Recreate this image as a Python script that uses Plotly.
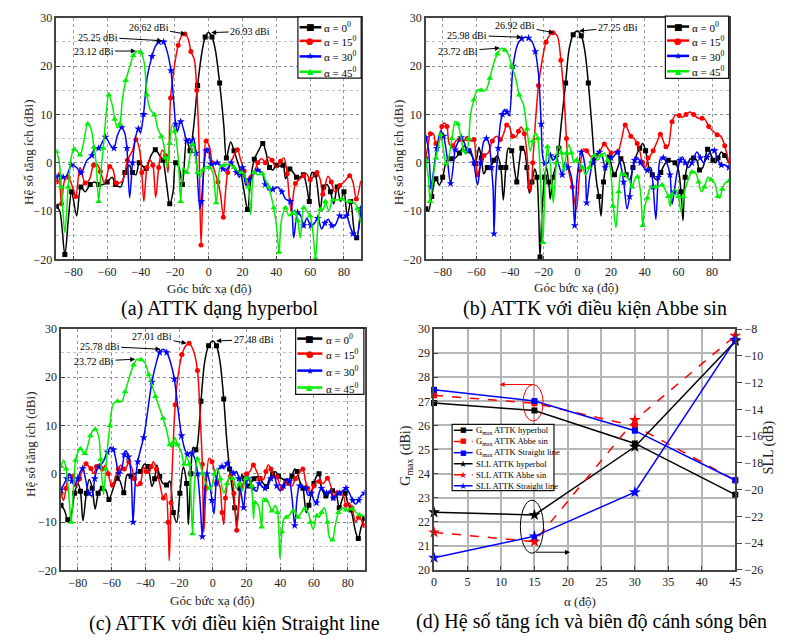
import plotly.graph_objects as go

# ---------------- radiation patterns: (angle [deg], gain [dBi]) ----------------
# (a) hyperbolic lens antenna
HYP_0 = [(-90,-9),(-88,-10),(-85,-19),(-83,-12),(-81,-6),(-78,-11),(-75.5,-5),(-73,-6),(-70,-4.5),(-67.5,-4),
         (-65,-4.5),(-62.5,-4.5),(-60,-4),(-57,-3),(-55,-4.5),(-52,-5),(-49.5,-2),(-47,-0.5),(-45,-2),(-43,-2.5),
         (-41,0),(-39.5,-0.5),(-37,-1.2),(-34,1.5),(-31.5,2.7),(-29,1.5),(-27,0.5),(-25,-4),(-23,-8.5),(-21,-6),
         (-19.5,0),(-17.5,-1),(-15.5,-4.5),(-13,5),(-11,2.5),(-9,7),(-6.5,16),(-4,22.8),(-2,26),(0,26.93),
         (2,26),(4,23.3),(6.5,16.5),(9,7.6),(10.5,1),(13,4.3),(15,2.5),(17,0.3),(19,-2),(21,-6),(23,-9.7),
         (25,-3),(27,0.7),(29.5,2.5),(32,4),(34,2),(36,-1),(38,-1.5),(40,-0.5),(42,-0.7),(44,-0.5),(45.5,-3.3),
         (48,-1.3),(50,-2),(52,-3),(54,-3),(56,-2.5),(58,-5),(59.5,-8),(61,-2),(63,-2.5),(66,-9.7),(68,-5),
         (70,-4.5),(72,-6),(74,-8.5),(76,-5),(78,-8),(80,-6),(82,-11),(84,-8),(86,-14),(87.5,-15.5),(90,-9)]
HYP_15 = [(-90,-4),(-88.5,-2),(-87,-8.5),(-85,-3.5),(-83,-3),(-80,-5.5),(-78.5,-7),(-76,-1),(-73,-4.2),(-70.5,-3.5),
          (-68,-0.5),(-66,-0.3),(-64,-1.8),(-61.5,-4.2),(-58.5,-0.8),(-56.5,-1.5),(-54.5,-4.2),(-51,-3.8),(-48,0.5),
          (-45,2.5),(-43,4.8),(-41,3),(-39.5,-2),(-38.3,-8),(-36.5,-1),(-35,0.6),(-33,-0.5),(-31.3,-7.2),(-29.5,-1),
          (-27.5,2.6),(-25.5,1.5),(-24,-2),(-22.5,13.4),(-20,20.5),(-18,24.3),(-16,26.2),(-14,26.62),(-12,25.5),
          (-10.5,23),(-8.5,21.4),(-7,15),(-5.8,5),(-4.5,-17),(-3,-2),(-1.5,4.5),(0.5,3.3),(2,0),(3.5,-1.7),(5.5,-4),
          (7,-6.5),(8.7,-11.3),(10,-6),(11.3,-2),(14.3,1),(17,2.7),(19,0.5),(21,-1.7),(23,-5),(25,-3),(27,-2),
          (29,0),(31.5,0.8),(33.5,0),(35,1.2),(37.5,0.5),(40,-1),(42.5,0.3),(44.5,1),(46.4,-2.3),(48.7,-10),
          (51.3,-4.3),(53.5,-3.5),(56,-2.7),(58,-2.3),(60,-3.5),(61.7,-3),(64,-2),(66,-3.5),(67.5,-6.5),(70.5,-2.8),
          (72.5,-4),(74.5,-6),(77.5,-4.7),(80,-4),(83.4,-2.7),(85.3,-4),(87.3,-7.5),(90,-3.7)]
HYP_30 = [(-90,-3),(-88,-2.5),(-86,-3),(-84,-2.7),(-81,-0.5),(-78,-1),(-75.4,-2.1),(-72,0.5),(-69,1.5),(-67.6,2.9),
          (-65,3),(-62.5,4.5),(-61,5.3),(-58,3.6),(-56,3),(-54,5.6),(-51.4,7.3),(-49.5,6),(-48.3,3),(-46.7,-7.2),
          (-45,0),(-43.2,5.3),(-41.5,7),(-40.3,6.2),(-38.5,10),(-36.4,17.5),(-33.5,22),(-31.5,24.1),(-29.5,25),
          (-28,25.25),(-26.6,25),(-24.5,23),(-22.3,19.1),(-20.5,12),(-19.5,8),(-18.5,6.5),(-16.5,8.5),(-14.5,6.5),
          (-13,4.5),(-11.5,5),(-10,4),(-9,5.3),(-7.5,2),(-5.2,-9.6),(-4.3,-8),(-3,-2),(-1.5,2.5),(-0.3,3),(1.6,-0.3),
          (3,-0.3),(5,0),(7,-0.5),(8.4,-1.3),(10.5,-1.5),(13.3,0),(15,-1),(16.5,-2),(18.2,-3),(20,-1),(22,-4.7),
          (24,-3.5),(27,-2.3),(29,-1.5),(31.8,-2.3),(33.5,-4.5),(35.7,-5.7),(38,-5.5),(40.6,-5),(43.3,-6),
          (45.5,-7.5),(48.3,-8),(50.3,-15.5),(52.6,-10.3),(54.5,-11),(56.2,-13),(58,-11.5),(60.5,-13),(62.5,-12.5),
          (64.5,-11.5),(66.8,-13.7),(68.7,-12.5),(70.8,-11.7),(72.8,-13),(74.6,-13),(77.5,-11),(79.5,-11.5),
          (81.5,-11),(83.5,-13),(85.3,-14.7),(87.3,-15.5),(90,-9.5)]
HYP_45 = [(-90,2.3),(-88.5,0.5),(-87,-5),(-85,-14.5),(-83,-5),(-81,1.5),(-79.5,2.8),(-78,2.5),(-76,1.6),(-74,4),
          (-71.5,8),(-69.5,7),(-67.8,3.2),(-66.5,0),(-65,-8),(-63.5,-1),(-62.3,3),(-61,8.5),(-59,14),(-57,12),
          (-55.5,9),(-53.8,7.2),(-52.5,8),(-51,13),(-49,17),(-46.5,20),(-44.5,22.2),(-42,23.12),(-40,22.8),
          (-38,20.5),(-36.5,14),(-34.5,11),(-32,9.9),(-30,7),(-28,5.5),(-26.6,3.9),(-25.5,1),(-24.5,-1),(-23,4),
          (-21.5,7.8),(-20,6.5),(-18,1),(-16.5,-8),(-15,-1),(-13,-2),(-11,1.5),(-9.5,3.8),(-8,2),(-6.5,-2),(-5,-3),
          (-3.5,-1.5),(-1.5,-0.8),(0.5,-1),(2.5,-2),(4.5,-8.3),(7,-0.7),(9,-0.5),(12.3,-0.3),(15,-1),(17.2,-1.7),
          (19.5,-2),(21,-2.5),(23.5,-5),(24.9,-10.7),(26.9,-2),(28.8,-2.5),(31.8,-2.3),(33.5,-3.5),(35.5,-5),
          (37,-7),(38.5,-9.3),(40.2,-13.3),(41.6,-18.5),(43,-12),(45.4,-9.3),(47.5,-11),(49.5,-10.5),(51,-9.8),
          (52.7,-12),(54.2,-15.5),(56.2,-9.3),(58,-10),(60,-11),(61.5,-14),(63.2,-19.8),(64.8,-12),(66,-9.7),
          (68,-9.5),(69,-8),(71,-10),(73.4,-7.7),(76.4,-7.7),(79,-7.5),(81,-8),(83.4,-8),(86.3,-8.3),(88,-9.5),
          (90,-12.5)]

# (b) lens antenna with Abbe sine condition
ABBE_0 = [(-90,-9.5),(-88.5,-10),(-86.5,-7),(-85,-4),(-84,-3.3),(-82,-4.6),(-80,-3),(-77.5,0.5),(-75,0.8),(-73.2,0.8),
          (-70,2),(-67.4,3.4),(-64.5,2.5),(-62,1),(-60.5,-0.2),(-58.5,3.2),(-57,1),(-55.6,-2.3),(-53.5,-1),
          (-51.7,-0.9),(-49.5,0.5),(-47.5,1.5),(-45.5,-1),(-44,-7.7),(-42.5,-1),(-41,3),(-39,2.5),(-37.5,-1),
          (-36,-4),(-34.5,0),(-33,3),(-31.5,2.5),(-30,-1),(-28.5,-6.3),(-27,-4),(-25.3,-1.3),(-24,-3),(-23,-10),
          (-22.2,-19.5),(-21,-10),(-19.5,-3),(-18.4,-1),(-17,-4),(-16.1,-7.5),(-14.5,-3),(-12.6,-0.3),(-11,3),
          (-9.6,8),(-7,16.5),(-4.9,23.5),(-2.5,26.5),(0,27.25),(2.3,26.3),(4.3,23.4),(6.5,16.5),(8.5,8),(10,1),
          (11.5,-4.3),(12.8,-7),(14,-11),(15.5,-4),(17,-0.7),(19,1.2),(20.5,-1),(22,-2.5),(24,-1),(25.8,0.8),
          (27.5,0),(29,-2.5),(31,-3.5),(33,-1),(35,1.5),(37,3),(38.8,4),(40.5,2.5),(42.5,-1),(44.5,-2.5),
          (47.5,-3.6),(49.5,-2),(51.5,-0.5),(53.9,0.5),(56,0.3),(58,0),(60,-1.5),(61.5,-6),(62.7,-12),(64,-3),
          (66.8,0.7),(69,1),(71,0.5),(72.5,-1.5),(74.5,-1),(77.3,2.8),(79,2),(80.5,0.5),(82,0),(83.5,1),(85.5,2.2),
          (87.5,1.5),(90,0)]
ABBE_15 = [(-90,1),(-88.5,4),(-87.3,6),(-85.5,6),(-84,4),(-82,4.5),(-80.5,7.5),(-79,8.2),(-77.5,7.5),(-76,3.8),
           (-74,3.5),(-72.3,4.5),(-70,4.8),(-68,4.5),(-65.4,5),(-63,4.5),(-61.5,4.8),(-60.2,0),(-59.3,-2.5),
           (-57.5,-0.5),(-55.5,1.5),(-53,2),(-50.5,4.5),(-48,5.5),(-45.8,4.8),(-44,5.8),(-42,7.8),(-40.5,7.5),
           (-38.5,5.5),(-36.5,5.3),(-35,6.5),(-33.5,7.4),(-31.5,6),(-30,2),(-28.5,-5),(-27.6,-6),(-26.5,0),(-25,8),
           (-23.1,16),(-21,21),(-18.6,25),(-16,26.6),(-14.5,26.92),(-12,26.3),(-9.8,21.2),(-8,14),(-6.5,5),(-5,-2),
           (-3,-5),(-0.6,-9.7),(1.5,-1.5),(3.5,2.8),(5.5,2.5),(8,1.3),(11.2,1.5),(13.5,2.5),(16,3.9),(18,3),(20,2),
           (22,2.2),(24,2.2),(26,4.5),(28.4,7.8),(30,6.8),(31.7,5.5),(33.6,5),(35.5,4),(37,2.5),(38.6,0.1),
           (40.5,-0.9),(42,1),(43.4,1.5),(45,2.5),(47.5,4.5),(49.3,5.9),(51,4.5),(52.6,3.3),(54,3.5),(56.2,8.5),
           (58.5,9.9),(60.5,9.8),(62.5,9.4),(64.5,10),(66.9,10.5),(69,10),(71.7,9.2),(74,9.2),(75.7,9),(78,7.5),
           (80.6,6.5),(83,5.8),(85.1,5.5),(87.5,3.5),(90,-0.2)]
ABBE_30 = [(-90,5.2),(-88.5,3),(-86.8,-5),(-85.5,-2),(-83.5,3),(-81.2,6.5),(-79.5,5.5),(-77.5,1.5),(-75.3,-4.3),
           (-73.5,0),(-72.6,2.7),(-70.5,4.5),(-69,5.2),(-67,4),(-65.5,2.5),(-63.8,2.8),(-61.5,0),(-59.3,-4.6),
           (-57.5,0),(-55.5,4.5),(-54,5),(-52.5,4),(-51,-1),(-50,-5.8),(-49.5,-14.7),(-48.5,-4),(-47,3),(-45.8,8),
           (-44.5,10),(-43.2,11),(-41.8,10.5),(-40.5,9.7),(-38.2,20),(-35.5,24.5),(-33,25.7),(-31,25.98),(-29,25.8),
           (-27,25.1),(-25,23),(-23.1,18.3),(-21.5,8),(-20.5,1),(-19.2,-0.2),(-17.5,0),(-16,1.5),(-14.5,0.5),
           (-12.7,1.2),(-11,-0.5),(-9,-2.5),(-7.5,0),(-5.5,-1),(-3.5,-3),(-1.6,-13),(-0.2,-3.2),(2.3,2.2),(4.5,-0.5),
           (5.5,-8.3),(7.2,-3.3),(9,0),(11,1.5),(13.1,2.2),(15,1),(16.5,-1),(18,-0.2),(20,1),(22,1.5),(23.9,2.2),
           (25.5,0),(27.5,-4),(29.5,-9.6),(31,-7),(32.5,-2),(34,0.5),(35.7,1.1),(37.5,0),(39.5,-1),(41.5,-1.6),
           (43.5,-1),(45,-5),(46.6,-11.7),(48,-3),(49.3,0.8),(51,1),(53,0),(55,-2.5),(56.2,-8.6),(57.5,-6),
           (59.1,-2.2),(61,0.5),(62.5,1.2),(64,0),(66,-1),(68,0),(71,2.2),(73,1),(75,0),(77,1.1),(80,2.8),(81.5,2.5),
           (83.5,0.5),(85.5,-0.5),(88,-0.5),(90,-1)]
ABBE_45 = [(-90,0.5),(-88.5,-3),(-87.5,-8),(-86,-4),(-84,1),(-82.5,3.5),(-81.2,5.8),(-79.5,2.5),(-78,-0.2),(-76.5,1),
           (-74.5,5),(-72.5,8.6),(-71,8),(-69,5),(-67.5,2.5),(-66,1.8),(-64.5,5),(-63.5,9.8),(-61.5,13),(-59.3,15.1),
           (-57,15),(-54.4,15),(-52,17.5),(-49.9,20.4),(-47.5,22.5),(-45,23.72),(-43,23.3),(-41.1,22.5),(-39,20),
           (-36.8,17.7),(-34.5,14),(-32,12),(-30,7),(-28,2.5),(-26.5,4.5),(-25,6.2),(-23.5,5),(-22,-3),(-20.5,-16.5),
           (-19,-2),(-17.8,3.3),(-16.5,1),(-15,-5),(-14.3,-8.3),(-12.5,0),(-11.3,3.4),(-9.5,2),(-8,-2),(-6.5,2),
           (-5,3.7),(-3.5,2),(-2,0),(-0.6,0.5),(1,0),(3,-1),(5,-2.5),(7,-1),(8.5,1),(10.2,1.5),(12,0.5),(14,1.5),
           (16,2),(18,0.5),(19.5,-1),(21.3,-9),(22.9,-13.4),(24.5,-6),(26,-2),(28,-2.5),(30.7,-3.6),(32.5,-5),
           (34,-3.5),(35.7,-2.9),(37.5,-6),(38.8,-13),(40,-9),(41.5,-7.3),(43.5,-5),(46.4,-5),(48.5,-4.8),
           (50.3,-4.6),(52.2,-5.6),(54,-7),(55,-9),(56.2,-6.6),(58,-5.5),(60,-7),(61.5,-10.1),(63,-7),(65,-4.3),
           (68,-1.9),(70,-2),(72,-4),(73.7,-6),(75.5,-5),(77.5,-3),(79.5,-3.5),(81.6,-4.3),(83.5,-7),(84.5,-7.3),
           (86,-5.5),(87.5,-4.3),(90,-3.8)]

# (c) lens antenna with straight-line condition
STR_0 = [(-90,-6.5),(-88,-7.5),(-86,-9.5),(-84,-8.5),(-82,-4),(-80,-2),(-78.5,-3.6),(-77,-9.7),(-75,-4),(-73.3,-1.2),
         (-71.5,-3),(-69.8,-7.3),(-68,-4),(-67,-3.3),(-65.5,-3),(-63.5,-3.3),(-61.6,-5.3),(-59,-3),(-56.7,-0.9),
         (-55,-1.5),(-52.8,-3.9),(-50.8,-0.2),(-48.5,-0.5),(-46,0.1),(-43,0.5),(-40.6,2),(-38.5,1.5),(-36.1,-2.6),
         (-34.5,-1),(-33.2,1.8),(-31.5,-0.5),(-29.5,-2),(-27.4,-2.3),(-25.5,-1.5),(-23.4,-8),(-21.4,-10),(-19.5,-4),
         (-17.5,1.4),(-15.5,-2),(-14.5,-10.5),(-13,0),(-11.6,5.5),(-10,5),(-9.1,6),(-7,15),(-4.8,23.2),(-2.5,26.5),
         (0,27.48),(2.2,26.5),(4.2,23.4),(6.5,15.5),(8.5,6),(10,1),(11.5,-3),(13,-7),(14.5,-10),(16,-3),(17.3,-0.2),
         (18.8,-1),(20.2,-2.6),(21.5,-2.5),(23.1,-1.6),(24.5,-1),(26.1,-0.6),(28,-1),(30,-2),(31.9,-2.6),(33.5,-1),
         (35.5,0),(37.4,0.4),(39,-0.5),(41,-1),(43.5,-1.5),(45.6,-2.3),(47,-0.5),(48.6,1),(50,0.5),(51.5,-1.5),
         (53.5,-3),(55.4,-8),(57,-6.5),(58.5,-4),(60,-2),(61.5,-0.5),(63,0),(64.5,-3),(67.1,-4.6),(69,-4),
         (71,-3.5),(73,-4),(75,-7),(77,-5),(78.5,-4),(80,-6),(82,-7.5),(84.7,-12),(86.3,-13.4),(88,-11),(90,-9.3)]
STR_15 = [(-90,-4),(-88.5,-5.5),(-87,-3),(-85,-0.2),(-83,-0.5),(-81,-2.5),(-79,-1),(-77,1),(-75.2,2.1),(-73.5,1.5),
          (-72.3,1.1),(-70.5,0),(-69,1.5),(-67,2),(-65.5,1),(-63.6,1.8),(-62,0),(-60.5,-2),(-59.6,-2.3),(-57.5,-0.5),
          (-56,1),(-54.6,1.8),(-52.5,1),(-51,1.5),(-49.8,2.5),(-48,1.2),(-46.5,-1),(-45,-2.5),(-43,-2),(-41,1.4),
          (-39.5,0.5),(-38,0.1),(-36.5,1.5),(-35.2,2.5),(-33.5,1),(-31.3,-2.3),(-29.3,-5),(-27.8,-4),(-26.5,-10),
          (-25.8,-18),(-24.8,-6),(-23.5,6),(-22.3,14.3),(-20.5,20.5),(-18.3,24.7),(-16,26.5),(-14,27.01),
          (-11.5,25.5),(-9.1,21.4),(-7.5,12),(-6.2,2),(-5.3,-12),(-4,-3),(-2.2,3.2),(-0.5,2.5),(1,0.5),(2.5,-1.5),
          (4.2,-2.6),(5.5,-8),(6.5,-10.5),(7.5,-5),(9,-1.5),(10.5,-0.5),(11.5,-0.9),(12.5,-4),(13.5,-9),
          (14.2,-11.7),(15.5,-6),(17,-2.5),(18.2,-1.9),(20,0),(22,0.5),(24.1,1.8),(26,0.5),(28,-1),(30,-1.2),
          (31.5,0.5),(32.9,1.8),(34.5,1),(36,-0.5),(37.8,-0.6),(39.5,-2),(41,-3),(43,-1.5),(45,-2),(47,-2.5),
          (49,-1),(51,0),(53.4,1),(55,-1.5),(56.3,-3),(58,-4),(60,-2.5),(61.5,-1.5),(63.2,-1.6),(65.5,-2),(68,-0.9),
          (70,-2.5),(71.5,-5),(73.5,-3.5),(75.5,-4),(77.5,-4.5),(79,-6.5),(80.5,-6),(82.5,-7),(84.7,-10),
          (86.5,-9),(88,-9.5),(90,-10.7)]
STR_30 = [(-90,-3.3),(-88,-2),(-86.5,-1),(-85,0),(-83.5,-1.5),(-82,-2.5),(-80,-1),(-78.5,0.5),(-77.2,1.1),(-75.5,-1),
          (-73.5,-4),(-71.8,-4.6),(-70,-1),(-68.5,1),(-67.4,1.4),(-65,2.5),(-62.5,4.5),(-60.5,5.5),(-59,5),
          (-57.5,3),(-55.7,0.1),(-54,1),(-52.5,4),(-51.6,4.8),(-50,3.5),(-48.5,0),(-47.3,-10),(-46,-2),(-44.5,2.5),
          (-42.5,5.5),(-41,7.5),(-39,12),(-36.1,19),(-33.5,23),(-31.5,25.1),(-29.5,25.78),(-27.3,25.1),(-25,23),
          (-22.8,19.6),(-20.5,13),(-18.5,7.9),(-16.5,5),(-15,4),(-13.5,4.5),(-12.2,4.2),(-10.5,3),(-9,0),(-7.5,-6),
          (-6.2,-13),(-5,-5),(-3.5,0),(-2,-1.5),(-0.5,-5.5),(0.7,-8.3),(2,-2),(3.6,1.1),(5.5,1.5),(6.8,1.2),
          (8.5,2.1),(10.5,1),(12.4,0.1),(14,0.5),(15.5,-1),(17,-4.5),(18.3,-7),(19.5,-3),(21,-1),(22.5,-2),(24,-3),
          (26,-3.6),(27.5,-2),(29,-2.5),(31,-3),(32.9,-2.3),(34.5,-1),(36.5,-0.5),(38,-2.5),(40,-3.5),(42,-2.5),
          (44,-1),(45.5,-1.5),(47,-5),(48.6,-10.7),(50,-5),(51.5,-2.5),(53,-2.5),(55,-3),(56.5,-4.5),(58.3,-4),
          (60,-5.5),(61.5,-6),(63,-4),(64.5,-3),(66,-3.5),(67.5,-4),(69.5,-3.5),(71.5,-5),(73,-4.5),(75,-4),
          (77,-3.5),(79,-3),(81,-4),(83,-5.5),(84.7,-6.3),(86.5,-5.5),(88,-4.5),(90,-4)]
STR_45 = [(-90,1.5),(-88.5,2.8),(-87,1),(-85.5,-4),(-84,-10),(-82.5,-2),(-81.4,2.8),(-80,4.5),(-78.5,5.2),(-77,4.5),
          (-75.9,4.2),(-74,6),(-72.6,7.9),(-71,9),(-69.7,9.2),(-67.7,7.8),(-66.5,3),(-64.8,-4.3),(-63.5,1),
          (-62.8,4),(-61,10),(-58.9,14.6),(-56.5,15),(-54,15),(-52,17),(-49.7,19.7),(-47,22.5),(-44.8,23.72),
          (-42.5,23.6),(-40.3,23),(-38,20.5),(-36,18.3),(-34,16),(-31.6,13.6),(-29.5,11.5),(-27.3,8.9),(-25.5,6),
          (-24.7,5.5),(-23.5,6.5),(-22.4,7.5),(-21,6),(-18.9,4.8),(-17,2),(-15.5,3.5),(-14,2),(-13,-4),(-12,-12.4),
          (-11,-3),(-9.1,3.1),(-7.5,2),(-6,0),(-4,-2),(-2,-3),(-0.3,-2.3),(1,0),(2.6,1.1),(4.5,-1),(6.5,-4),
          (8.5,-2),(10,-0.5),(12,-1),(14,-3),(16,-2),(17.5,-3.5),(19.5,-1),(21.2,-0.6),(23,-2.5),(24.2,-9.3),
          (25.1,-6),(27,-6.5),(29,-11),(30,-5),(31.5,-5.5),(33,-6),(35.1,-7.7),(37,-6.5),(38.5,-8),(39.8,-17.5),
          (41,-12),(42.1,-9.4),(43.7,-9),(45.5,-8.5),(47.6,-7.7),(49,-8),(50.5,-9),(52.5,-8),(54.4,-7.3),(56.5,-8),
          (58,-10),(59.5,-11.5),(61.7,-8.7),(63,-9),(64.5,-8),(66.2,-7),(68,-10),(69.1,-13.1),(71,-13.7),(72.5,-11),
          (74.5,-8),(76.9,-7),(79,-7.5),(81,-7.3),(82.8,-7.3),(85,-8),(87,-8.5),(90,-8.7)]

# (d) peak gain and side-lobe level versus tilt angle
ALPHA = [0, 15, 30, 45]
GMAX_HYP = [26.93, 26.62, 25.25, 23.12]
GMAX_ABBE = [27.25, 26.92, 25.98, 23.72]
GMAX_STR = [27.48, 27.01, 25.78, 23.72]
SLL_HYP = [-21.7, -21.9, -16.8, -8.9]
SLL_ABBE = [-23.2, -23.9, -14.8, -8.5]
SLL_STR = [-25.1, -23.5, -20.2, -8.8]

# peak labels: (arrow-head angle, peak gain, text angle, text gain)
PEAKS_HYP = [(1.5, 26.93, 24.5, 27.2), (-13.5, 26.62, -35.5, 28.0), (-27.5, 25.25, -65.5, 26.0), (-43, 23.12, -68, 23.1)]
PEAKS_ABBE = [(1, 27.25, 24.0, 28.0), (-14, 26.92, -37, 28.4), (-33, 25.98, -65.5, 26.35), (-46, 23.72, -71, 23.1)]
PEAKS_STR = [(2, 27.48, 24.2, 27.8), (-15.5, 27.01, -36, 28.4), (-31, 25.78, -67, 26.4), (-46, 23.72, -70.5, 23.3)]

SERIF = "Liberation Serif"
W, H = 791, 643

STYLES = [
    dict(name="α = 0<sup>0</sup>", color="#000000", symbol="square", size=5, glyph="■", gsize=9),
    dict(name="α = 15<sup>0</sup>", color="#ff0000", symbol="circle", size=5, glyph="●", gsize=9),
    dict(name="α = 30<sup>0</sup>", color="#0000ff", symbol="star", size=6, glyph="★", gsize=9),
    dict(name="α = 45<sup>0</sup>", color="#00ee00", symbol="triangle-up", size=6, glyph="▲", gsize=8),
]


def px_x(px):
    return px / W


def px_y(py):
    return 1 - py / H


fig = go.Figure()
annotations = []
shapes = []
layout_axes = {}


def add_legend_box(box, rows, sample, text_x, entries, font_size, line_w):
    """Boxed key drawn in figure pixels: box=(x0,y0,x1,y1), one row per entry."""
    shapes.append(dict(type="rect", xref="paper", yref="paper",
                       x0=px_x(box[0]), x1=px_x(box[2]), y0=px_y(box[3]), y1=px_y(box[1]),
                       line=dict(color="#111", width=1.2), fillcolor="white", layer="above"))
    for ry, (label, color, dash, glyph, gsize) in zip(rows, entries):
        shapes.append(dict(type="line", xref="paper", yref="paper",
                           x0=px_x(sample[0]), x1=px_x(sample[1]), y0=px_y(ry), y1=px_y(ry),
                           line=dict(color=color, width=line_w, dash=dash), layer="above"))
        annotations.append(dict(x=px_x((sample[0] + sample[1]) / 2), y=px_y(ry), xref="paper", yref="paper",
                                text=glyph, showarrow=False, xanchor="center", yanchor="middle",
                                font=dict(family="DejaVu Sans", size=gsize, color=color)))
        annotations.append(dict(x=px_x(text_x), y=px_y(ry), xref="paper", yref="paper",
                                text=label, showarrow=False, xanchor="left", yanchor="middle",
                                font=dict(family=SERIF, size=font_size, color="black")))


PANELS = [
    dict(ax="", series=[HYP_0, HYP_15, HYP_30, HYP_45], peaks=PEAKS_HYP,
         dx=(54, 362), dy=(11, 258), ytitle=(26.5, 149), xtitle=(209, 288),
         caption="(a) ATTK dạng hyperbol", cap=(220, 308),
         box=(298.3, 10, 362.3, 72.7), rows=(20.7, 34.6, 50.5, 66.2), sample=(300, 322), text_x=323),
    dict(ax="2", series=[ABBE_0, ABBE_15, ABBE_30, ABBE_45], peaks=PEAKS_ABBE,
         dx=(427.7, 734.3), dy=(11, 258), ytitle=(400, 149), xtitle=(580.5, 287),
         caption="(b) ATTK với điều kiện Abbe sin", cap=(598.5, 308),
         box=(670, 9.3, 734, 73), rows=(20, 34.3, 50, 65.7), sample=(671.7, 694), text_x=695),
    dict(ax="3", series=[STR_0, STR_15, STR_30, STR_45], peaks=PEAKS_STR,
         dx=(58.7, 365.7), dy=(329, 576), ytitle=(28, 447), xtitle=(212.3, 607),
         caption="(c) ATTK với điều kiện Straight line", cap=(234.5, 630),
         box=(296, 328.3, 365, 396), rows=(339, 354.3, 371.7, 389), sample=(297.7, 323), text_x=325),
]

for p in PANELS:
    xa, ya = "x" + p["ax"], "y" + p["ax"]
    for st, data in zip(STYLES, p["series"]):
        ang = [a for a, _ in data]
        gain = [g for _, g in data]
        fig.add_trace(go.Scatter(x=ang, y=gain, mode="lines", xaxis=xa, yaxis=ya, name=st["name"],
                                 line=dict(color=st["color"], width=1.5, shape="spline", smoothing=0.9),
                                 showlegend=False, hoverinfo="skip"))
        fig.add_trace(go.Scatter(x=ang[::2], y=gain[::2], mode="markers", xaxis=xa, yaxis=ya,
                                 marker=dict(color=st["color"], symbol=st["symbol"], size=st["size"],
                                             line=dict(width=0)),
                                 showlegend=False, hoverinfo="skip"))
    layout_axes["xaxis" + p["ax"]] = dict(
        domain=[px_x(p["dx"][0]), px_x(p["dx"][1])], anchor=ya, range=[-90, 90],
        dtick=20, tick0=0, showgrid=True, gridcolor="#9a9a9a", griddash="dot", gridwidth=1,
        showline=True, mirror=True, linecolor="#444", linewidth=1.5,
        ticks="inside", ticklen=4, tickcolor="#444", zeroline=False,
        tickfont=dict(family=SERIF, size=12, color="#222"))
    layout_axes["yaxis" + p["ax"]] = dict(
        domain=[px_y(p["dy"][1]), px_y(p["dy"][0])], anchor=xa, range=[-20, 30],
        dtick=10, showgrid=True, gridcolor="#8a8a8a", griddash="dot", gridwidth=1,
        minor=dict(dtick=5, showgrid=True, gridcolor="#c0c0c0", griddash="dot"),
        showline=True, mirror=True, linecolor="#444", linewidth=1.5,
        ticks="inside", ticklen=4, tickcolor="#444", zeroline=False,
        tickfont=dict(family=SERIF, size=12, color="#222"))
    for hx, hy, tx, ty in p["peaks"]:
        annotations.append(dict(x=hx, y=hy, xref=xa, yref=ya, ax=tx, ay=ty, axref=xa, ayref=ya,
                                text=f"{hy:.2f} dBi", showarrow=True, arrowhead=2, arrowsize=1,
                                arrowwidth=1, arrowcolor="black",
                                font=dict(family=SERIF, size=10, color="black")))
    annotations.append(dict(x=px_x(p["ytitle"][0]), y=px_y(p["ytitle"][1]), xref="paper", yref="paper",
                            text="Hệ số tăng ích (dBi)", textangle=-90, showarrow=False,
                            xanchor="center", yanchor="middle",
                            font=dict(family=SERIF, size=13, color="#222")))
    annotations.append(dict(x=px_x(p["xtitle"][0]), y=px_y(p["xtitle"][1]), xref="paper", yref="paper",
                            text="Góc bức xạ (độ)", showarrow=False, xanchor="center", yanchor="middle",
                            font=dict(family=SERIF, size=13, color="#222")))
    annotations.append(dict(x=px_x(p["cap"][0]), y=px_y(p["cap"][1]), xref="paper", yref="paper",
                            text=p["caption"], showarrow=False, xanchor="center", yanchor="middle",
                            font=dict(family=SERIF, size=20, color="black")))
    add_legend_box(p["box"], p["rows"], p["sample"], p["text_x"],
                   [(st["name"], st["color"], "solid", st["glyph"], st["gsize"]) for st in STYLES],
                   font_size=11, line_w=2.5)

# ---------------- panel (d) ----------------
D_LINES = [
    ("G<sub>max</sub> ATTK hyperbol", GMAX_HYP, "y4", "#000000", "solid", "square", 6, "■", 7),
    ("G<sub>max</sub> ATTK Abbe sin", GMAX_ABBE, "y4", "#ff0000", "dash", "square", 6, "■", 7),
    ("G<sub>max</sub> ATTK Straight line", GMAX_STR, "y4", "#0000ff", "solid", "square", 6, "■", 7),
    ("SLL ATTK hyperbol", SLL_HYP, "y5", "#000000", "solid", "star", 9, "★", 9),
    ("SLL ATTK Abbe sin", SLL_ABBE, "y5", "#ff0000", "dash", "star", 9, "★", 9),
    ("SLL ATTK Straight line", SLL_STR, "y5", "#0000ff", "solid", "star", 9, "★", 9),
]
for name, ys, yax, col, dash, sym, sz, _, _ in D_LINES:
    fig.add_trace(go.Scatter(x=ALPHA, y=ys, mode="lines+markers", xaxis="x4", yaxis=yax, name=name,
                             showlegend=False, cliponaxis=False, hoverinfo="skip",
                             line=dict(color=col, width=1.5, dash=dash),
                             marker=dict(color=col, symbol=sym, size=sz, line=dict(width=0))))

layout_axes["xaxis4"] = dict(domain=[px_x(436), px_x(740.7)], anchor="y4", range=[0, 45], dtick=5,
                             showgrid=True, gridcolor="#b5b5b5", gridwidth=1.5, zeroline=False,
                             showline=True, mirror=True, linecolor="#444", linewidth=1.5,
                             ticks="inside", ticklen=4, tickcolor="#444",
                             tickfont=dict(family=SERIF, size=12, color="#222"))
layout_axes["yaxis4"] = dict(domain=[px_y(575.3), px_y(329.3)], anchor="x4", range=[20, 30], dtick=1,
                             showgrid=True, gridcolor="#b5b5b5", gridwidth=1.5, zeroline=False,
                             showline=True, mirror=False, linecolor="#444", linewidth=1.5,
                             ticks="inside", ticklen=4, tickcolor="#444",
                             tickfont=dict(family=SERIF, size=12, color="#222"))
layout_axes["yaxis5"] = dict(overlaying="y4", side="right", anchor="x4", range=[-26, -8], dtick=2,
                             showgrid=False, zeroline=False, showline=True, linecolor="#444", linewidth=1.5,
                             ticks="outside", ticklen=5, tickcolor="#444",
                             tickfont=dict(family=SERIF, size=12, color="#222"))

add_legend_box((454.3, 426.7, 557.3, 494.3), (432.7, 444.1, 455.6, 466.9, 478.2, 489.4), (456, 475), 476.5,
               [(n, c, d, g, gs) for n, _, _, c, d, _, _, g, gs in D_LINES], font_size=8.5, line_w=1.5)

annotations += [
    dict(x=px_x(407.3), y=px_y(459), xref="paper", yref="paper", text="G<sub>max</sub> (dBi)",
         textangle=-90, showarrow=False, xanchor="center", yanchor="middle",
         font=dict(family=SERIF, size=14, color="#222")),
    dict(x=px_x(775), y=px_y(450), xref="paper", yref="paper", text="SLL (dB)",
         textangle=-90, showarrow=False, xanchor="center", yanchor="middle",
         font=dict(family=SERIF, size=14, color="#222")),
    dict(x=px_x(583.3), y=px_y(607.7), xref="paper", yref="paper", text="α (độ)",
         showarrow=False, xanchor="center", yanchor="middle", font=dict(family=SERIF, size=13, color="#222")),
    dict(x=px_x(595), y=px_y(628), xref="paper", yref="paper",
         text="(d) Hệ số tăng ích và biên độ cánh sóng bên", showarrow=False,
         xanchor="center", yanchor="middle", font=dict(family=SERIF, size=20, color="black")),
    # direction arrows: gain curves -> left axis, SLL curves -> right axis
    dict(x=9.8, y=27.7, xref="x4", yref="y4", ax=15, ay=27.7, axref="x4", ayref="y4", text="",
         showarrow=True, arrowhead=2, arrowsize=1, arrowwidth=1, arrowcolor="#ff0000"),
    dict(x=20.3, y=20.73, xref="x4", yref="y4", ax=15, ay=20.73, axref="x4", ayref="y4", text="",
         showarrow=True, arrowhead=2, arrowsize=1, arrowwidth=1, arrowcolor="#000000"),
]

shapes += [
    dict(type="circle", xref="x4", yref="y4", x0=13.3, x1=16.3, y0=26.18, y1=27.7,
         line=dict(color="#ff0000", width=1)),
    dict(type="circle", xref="x4", yref="y4", x0=12.9, x1=16.35, y0=20.69, y1=22.89,
         line=dict(color="#000000", width=1)),
]

fig.update_layout(width=W, height=H, margin=dict(l=0, r=0, t=0, b=0), showlegend=False,
                  font=dict(family=SERIF),
                  paper_bgcolor="white", plot_bgcolor="white",
                  annotations=annotations, shapes=shapes, **layout_axes)

fig.write_html("out.html")
